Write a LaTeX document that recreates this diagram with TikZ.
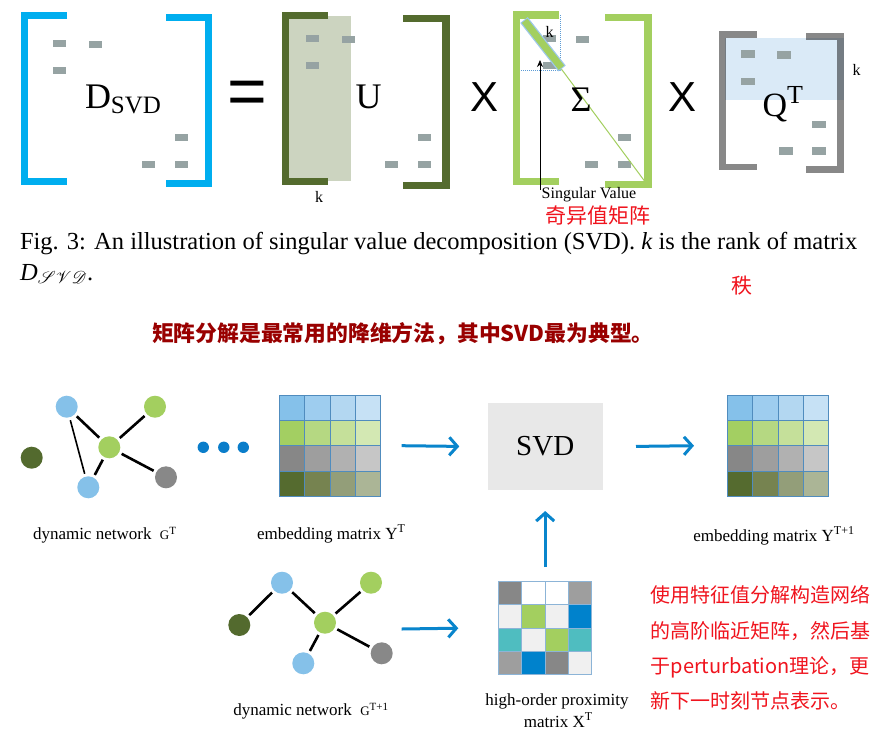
\documentclass[tikz,border=0pt]{standalone}
\usepackage{fontspec}
\setmainfont{Liberation Serif}
\newfontfamily\sansfont{Liberation Sans}
\newfontfamily\cjk{Noto Sans CJK SC}
\usepackage{mathrsfs}
\usetikzlibrary{arrows.meta}
\newcommand\fsz[1]{\fontsize{#1}{#1}\selectfont}
\definecolor{dcyan}{RGB}{0,174,239}
\definecolor{ugreen}{RGB}{84,107,46}
\definecolor{ushade}{RGB}{204,212,192}
\definecolor{sgreen}{RGB}{163,207,95}
\definecolor{qgray}{RGB}{136,136,136}
\definecolor{qblue}{RGB}{218,234,247}
\definecolor{blkgray}{RGB}{150,163,163}
\definecolor{dotblue}{RGB}{91,155,213}
\definecolor{barblue}{RGB}{157,200,235}
\definecolor{redtxt}{RGB}{240,20,30}
\definecolor{darkred}{RGB}{153,0,0}
\definecolor{nblue}{RGB}{133,193,233}
\definecolor{ngreen}{RGB}{163,207,95}
\definecolor{ndark}{RGB}{83,106,46}
\definecolor{ngray}{RGB}{136,136,136}
\definecolor{flowblue}{RGB}{9,133,204}
\definecolor{dotsblue}{RGB}{10,125,202}
\definecolor{svdgray}{RGB}{232,232,232}
\definecolor{gridblue}{RGB}{80,140,190}
\definecolor{gridlight}{RGB}{140,180,215}
\definecolor{mb1}{RGB}{133,193,234}\definecolor{mb2}{RGB}{158,205,239}
\definecolor{mb3}{RGB}{179,215,241}\definecolor{mb4}{RGB}{198,225,245}
\definecolor{mg1}{RGB}{163,207,98}\definecolor{mg2}{RGB}{181,216,130}
\definecolor{mg3}{RGB}{197,224,154}\definecolor{mg4}{RGB}{211,232,179}
\definecolor{mk1}{RGB}{135,135,135}\definecolor{mk2}{RGB}{158,158,158}
\definecolor{mk3}{RGB}{177,177,177}\definecolor{mk4}{RGB}{198,198,198}
\definecolor{md1}{RGB}{85,107,47}\definecolor{md2}{RGB}{118,131,80}
\definecolor{md3}{RGB}{147,158,121}\definecolor{md4}{RGB}{171,181,150}
\definecolor{pk}{RGB}{135,135,135}
\definecolor{pm}{RGB}{158,158,158}
\definecolor{pl}{RGB}{240,240,240}
\definecolor{pb}{RGB}{0,130,204}
\definecolor{pt}{RGB}{79,189,192}
\begin{document}
\begin{tikzpicture}[x=1pt,y=-1pt,line width=1pt,
  every node/.style={inner sep=0pt,outer sep=0pt},
  brk/.style={line width=7.5pt,line join=miter,line cap=butt},
  blk/.style={fill=blkgray},
  vtx/.style={circle,minimum size=22pt,inner sep=0pt},
  link/.style={line width=2.6pt,shorten <=3pt,shorten >=3pt},
  flow/.style={draw=flowblue,line width=3pt,-{Straight Barb[length=8pt,width=18pt]}},
  lbl/.style={font=\fsz{17},anchor=base west},
  redline/.style={font=\cjk\fsz{20},text=redtxt,anchor=base west}]
  \path[use as bounding box,fill=white] (0,0) rectangle (879,745);
  % D_SVD
  \draw[brk,dcyan] (67,15.3)--(24.3,15.3)--(24.3,181.5)--(67,181.5);
  \draw[brk,dcyan] (166,17.5)--(208.5,17.5)--(208.5,183.5)--(166,183.5);
  \foreach \p in {(53,40),(89,41),(53,67),(175,134),(142,161),(175,161)}
    \fill[blk] \p rectangle ++(13,7);
  \node[anchor=base west,font=\fsz{36}] (dsvd) at (85,108) {D\raisebox{-5pt}{\fsz{25}SVD}};
  \node[font=\sansfont\fsz{68}] (eq) at (247,97.5) {=};
  % U
  \fill[ushade] (282,16) rectangle (350.7,181);
  \draw[brk,ugreen] (328,15.3)--(285.7,15.3)--(285.7,181.6)--(328,181.6);
  \draw[brk,ugreen] (403,18.3)--(446.2,18.3)--(446.2,185.3)--(403,185.3);
  \foreach \p in {(306,35),(342,36),(306,62),(418,134),(385,161),(418,161)}
    \fill[blk] \p rectangle ++(13,7);
  \node[anchor=base,font=\fsz{36}] (umat) at (368.5,108) {U};
  \node[font=\fsz{16}] (ku) at (319,197) {k};
  \node[font=\sansfont\fsz{42}] (x1) at (484.2,96.7) {X};
  % Sigma
  \draw[brk,sgreen] (559.3,15)--(516.7,15)--(516.7,181.5)--(559.3,181.5);
  \draw[brk,sgreen] (605,17.3)--(648,17.3)--(648,184.5)--(605,184.5);
  \foreach \p in {(543,35),(576,36),(543,62),(618,134),(585,161),(618,161)}
    \fill[blk] \p rectangle ++(13,7);
  \draw[dotblue,densely dotted] (560.7,15)--(560.7,70)--(520.7,70);
  \draw[sgreen] (561,68.5)--(646,183);
  \draw[barblue,line width=9.5pt] (524,20)--(562,68.5);
  \draw[sgreen,line width=7pt] (524.6,20.8)--(561.4,67.7);
  \node[font=\fsz{16}] (ks) at (549.5,32) {k};
  \node[anchor=base,font=\fsz{36}] (sig) at (581,111.5) {Σ};
  \coordinate (svfoot) at (540,190);
  \draw[-{Stealth[length=7pt,width=6pt]},line width=0.8pt] (svfoot)--(540,60);
  \node[font=\fsz{16}] (sv) at (589,195) {Singular Value};
  \node[anchor=base west,font=\cjk\fsz{21},text=redtxt] (qyz) at (545,223) {奇异值矩阵};
  \node[font=\sansfont\fsz{42}] (x2) at (682.5,97.3) {X};
  % Q^T
  \draw[brk,line width=6.5pt,qgray] (756.7,34.5)--(722.7,34.5)--(722.7,167)--(756.7,167);
  \draw[brk,line width=6.5pt,qgray] (806,36.3)--(840.7,36.3)--(840.7,169.7)--(806,169.7);
  \fill[qblue,blend mode=multiply] (725,38.3) rectangle (844,100);
  \foreach \p in {(741,50),(777,51),(741,77.5),(812,120.5),(779,147),(812,147)}
    \fill[blk] \p rectangle ++(13.5,7.5);
  \node[anchor=base west,font=\fsz{34}] (qt) at (762.5,116) {Q\raisebox{13pt}{\fsz{26}T}};
  \node[font=\fsz{16}] (kq) at (856.5,70) {k};
  % caption
  \node[anchor=base west,font=\fsz{24.5}] (cap1) at (20,249)
    {Fig. 3: An illustration of singular value decomposition (SVD). \textit{k} is the rank of matrix};
  \node[anchor=base west,font=\fsz{24.5}] (cap2) at (20,280) {\textit{D}$_{\mathscr{SVD}}$.};
  \node[anchor=base west,font=\cjk\fsz{21},text=redtxt] (zhi) at (731,293) {秩};
  \node[anchor=base west,font=\cjk\bfseries\fsz{21.8},text=darkred] (head) at (152,341)
    {矩阵分解是最常用的降维方法，其中SVD最为典型。};
  % network G^T
  \node[vtx,fill=nblue] (a1) at (66.7,406.7) {};
  \node[vtx,fill=ngreen] (a2) at (155,406.7) {};
  \node[vtx,fill=ngreen] (a3) at (109.3,447.3) {};
  \node[vtx,fill=ndark] (a4) at (31.7,457.7) {};
  \node[vtx,fill=nblue] (a5) at (88.3,487.3) {};
  \node[vtx,fill=ngray] (a6) at (166,477.3) {};
  \draw[link] (a1)--(a3);
  \draw[link] (a2)--(a3);
  \draw[link] (a3)--(a6);
  \draw[link] (a3)--(a5);
  \draw[link,line width=1.6pt] (a1)--(a5);
  \foreach \x in {203.3,223.8,243.3}
    \fill[dotsblue] (\x,447.3) circle (5.7);
  \node[lbl] (ga) at (33,539) {dynamic network \ {\fsz{13}G\raisebox{5pt}{\fsz{11}T}}};
  % embedding matrices
  \foreach \ox/\nm in {279.3/embT,727.3/embU}{
    \foreach \r [count=\j from 0] in {mb,mg,mk,md}
      \foreach \i in {1,...,4}
        \fill[fill=\r\i] (\ox+25.35*\i-25.35,395+25.35*\j) rectangle ++(25.35,25.35);
    \node[draw=gridblue,line width=0.8pt,minimum size=101.4pt] (\nm) at (\ox+50.7,445.7) {};
    \foreach \k in {1,2,3}{
      \draw[gridblue,line width=0.8pt] (\ox+25.35*\k,395)--++(0,101.4);
      \draw[gridblue,line width=0.8pt] (\ox,395+25.35*\k)--++(101.4,0);
    }
  }
  \node[lbl] (ea) at (257,539) {embedding matrix Y\raisebox{7pt}{\fsz{12}T}};
  \node[lbl] (eb) at (693.3,541.5) {embedding matrix Y\raisebox{7pt}{\fsz{12}T+1}};
  % SVD
  \node[fill=svdgray,minimum width=115pt,minimum height=87.3pt,font=\fsz{29}] (svd) at (545.2,446.4) {SVD};
  \draw[flow] ([xshift=21pt]embT.east)--([xshift=-28.4pt]svd.west);
  \draw[flow] ([xshift=33.3pt]svd.east)--([xshift=-33.3pt]embU.west);
  % network G^{T+1}
  \node[vtx,fill=nblue] (b1) at (282,582.7) {};
  \node[vtx,fill=ngreen] (b2) at (371,582.7) {};
  \node[vtx,fill=ngreen] (b3) at (325,622.7) {};
  \node[vtx,fill=ndark] (b4) at (239.3,625) {};
  \node[vtx,fill=nblue] (b5) at (303.3,663.3) {};
  \node[vtx,fill=ngray] (b6) at (381.7,653.3) {};
  \draw[link] (b4)--(b1);
  \draw[link] (b1)--(b3);
  \draw[link] (b3)--(b2);
  \draw[link] (b3)--(b5);
  \draw[link] (b3)--(b6);
  \node[lbl] (gb) at (233.3,715) {dynamic network \ {\fsz{13}G\raisebox{5pt}{\fsz{11}T+1}}};
  % proximity matrix
  \foreach \c [count=\n from 0] in {pk,white,white,pm,pl,ngreen,pl,pb,pt,pl,ngreen,pt,pm,pb,pk,pl}{
    \pgfmathtruncatemacro\cc{mod(\n,4)}
    \pgfmathtruncatemacro\rr{div(\n,4)}
    \fill[fill=\c] (498.7+23.25*\cc,581.7+23.25*\rr) rectangle ++(23.25,23.25);
  }
  \node[draw=gridlight,minimum size=93pt] (xmat) at (545.2,628.2) {};
  \foreach \k in {1,2,3}{
    \draw[gridlight] (498.7+23.25*\k,581.7)--++(0,93);
    \draw[gridlight] (498.7,581.7+23.25*\k)--++(93,0);
  }
  \node[font=\fsz{17},anchor=base] (xl1) at (557,705.5) {high-order proximity};
  \node[font=\fsz{17},anchor=base] (xl2) at (558,727) {matrix X\raisebox{7pt}{\fsz{12}T}};
  \coordinate (gout) at (401.7,629);
  \draw[flow] (gout)--([xshift=-40.4pt]xmat.west);
  \draw[flow] ([yshift=14.7pt]xmat.north)--([yshift=-21pt]svd.south);
  % note
  \node[redline] (r1) at (650.7,602.5) {使用特征值分解构造网络};
  \node[redline] (r2) at (650.7,638) {的高阶临近矩阵，然后基};
  \node[redline] (r3) at (650.7,673.5) {于perturbation理论，更};
  \node[redline] (r4) at (650.7,708) {新下一时刻节点表示。};
\end{tikzpicture}
\end{document}
